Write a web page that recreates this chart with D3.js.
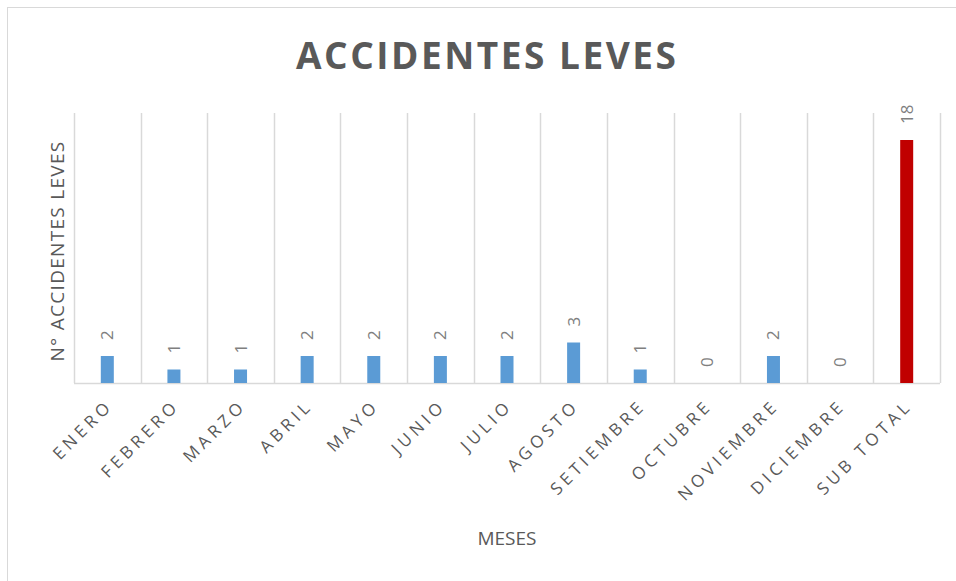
<!DOCTYPE html>
<html>
<head>
<meta charset="utf-8">
<script src="https://cdn.jsdelivr.net/npm/d3@7"></script>
<style>
  body { margin: 0; background: #fff; }
  svg { display: block; font-family: 'Open Sans', 'Liberation Sans', sans-serif; }
</style>
</head>
<body>
<div id="chart"></div>
<script>
const months = ['ENERO', 'FEBRERO', 'MARZO', 'ABRIL', 'MAYO', 'JUNIO', 'JULIO',
  'AGOSTO', 'SETIEMBRE', 'OCTUBRE', 'NOVIEMBRE', 'DICIEMBRE', 'SUB TOTAL'];
const accidents = [2, 1, 1, 2, 2, 2, 2, 3, 1, 0, 2, 0, 18];
const yMax = 20;

const width = 956, height = 581;
const margin = { top: 113, right: 16, bottom: 198, left: 74 };
const W = width - margin.left - margin.right;
const H = height - margin.top - margin.bottom;

const svg = d3.select('#chart').append('svg')
  .attr('width', width).attr('height', height);

// chart frame
svg.append('rect').attr('x', 7.5).attr('y', 7.5)
  .attr('width', 960).attr('height', 600)
  .attr('fill', '#fff').attr('stroke', '#d9d9d9');

svg.append('text').attr('x', 486).attr('y', 69)
  .attr('text-anchor', 'middle').attr('fill', '#595959')
  .attr('font-size', '37px').attr('font-weight', 700)
  .attr('textLength', 380).attr('lengthAdjust', 'spacing')
  .text('ACCIDENTES LEVES');

const g = svg.append('g').attr('transform', `translate(${margin.left},${margin.top})`);

const x = d3.scaleBand().domain(months).range([0, W]);
const y = d3.scaleLinear().domain([0, yMax]).range([H, 0]);

// vertical gridlines at category boundaries
g.selectAll('.grid').data(d3.range(months.length + 1)).join('line')
  .attr('class', 'grid')
  .attr('x1', i => Math.round(i * x.step()) + 0.5)
  .attr('x2', i => Math.round(i * x.step()) + 0.5)
  .attr('y1', 0).attr('y2', H)
  .attr('stroke', '#d9d9d9').attr('stroke-width', 1.5);

// baseline
g.append('line').attr('x1', 0).attr('x2', W).attr('y1', H + 0.5).attr('y2', H + 0.5)
  .attr('stroke', '#d9d9d9').attr('stroke-width', 1.5);

const barW = 13;
g.selectAll('.bar').data(months).join('rect')
  .attr('class', 'bar')
  .attr('x', (d) => x(d) + x.bandwidth() / 2 - barW / 2)
  .attr('y', (d, i) => y(accidents[i]))
  .attr('width', barW)
  .attr('height', (d, i) => H - y(accidents[i]))
  .attr('fill', d => d === 'SUB TOTAL' ? '#c00000' : '#5b9bd5');

// data labels
g.selectAll('.val').data(months).join('text')
  .attr('class', 'val')
  .attr('transform', (d, i) => `translate(${x(d) + x.bandwidth() / 2 + 6},${y(accidents[i]) - 16}) rotate(-90)`)
  .attr('fill', '#7f7f7f').attr('font-size', '17px')
  .text((d, i) => accidents[i]);

// x tick labels
g.selectAll('.tick-label').data(months).join('text')
  .attr('class', 'tick-label')
  .attr('transform', d => `translate(${x(d) + x.bandwidth() / 2 - 2},${H + 15}) rotate(-45)`)
  .attr('text-anchor', 'end').attr('dy', '0.72em')
  .attr('fill', '#595959').attr('font-size', '17px').attr('letter-spacing', '4.2px')
  .text(d => d);

// axis titles
svg.append('text').attr('x', 507).attr('y', 545)
  .attr('text-anchor', 'middle').attr('fill', '#595959').attr('font-size', '19px')
  .text('MESES');

svg.append('text').attr('transform', 'translate(64,251) rotate(-90)')
  .attr('text-anchor', 'middle').attr('fill', '#595959').attr('font-size', '19px')
  .attr('letter-spacing', '1.3px')
  .text('N°  ACCIDENTES  LEVES');
</script>
</body>
</html>
